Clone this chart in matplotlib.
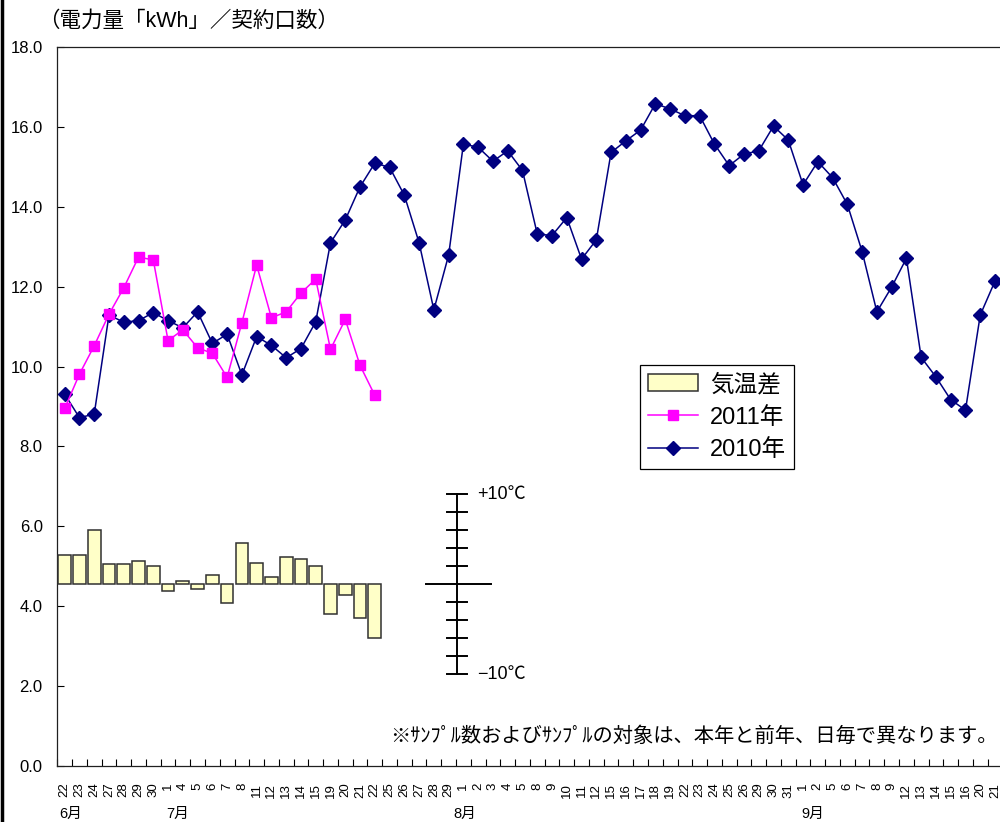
import matplotlib
matplotlib.use("Agg")
import matplotlib.pyplot as plt
import matplotlib.transforms as mtransforms
from matplotlib.lines import Line2D
from matplotlib.patches import Patch

plt.rcParams['font.family'] = ['Liberation Sans', 'Noto Sans CJK JP']

# 日付（平日のみ）
days_jun = [22, 23, 24, 27, 28, 29, 30]
days_jul = [1, 4, 5, 6, 7, 8, 11, 12, 13, 14, 15, 19, 20, 21, 22, 25, 26, 27, 28, 29]
days_aug = [1, 2, 3, 4, 5, 8, 9, 10, 11, 12, 15, 16, 17, 18, 19, 22, 23, 24, 25, 26,
            29, 30, 31]
days_sep = [1, 2, 5, 6, 7, 8, 9, 12, 13, 14, 15, 16, 20, 21]
months = ["6月", "7月", "8月", "9月"]

# 電力量[kWh]／契約口数
usage_2011 = [8.95, 9.81, 10.52, 11.31, 11.97, 12.74, 12.67, 10.65, 10.92, 10.47, 10.33,
              9.73, 11.10, 12.54, 11.22, 11.37, 11.84, 12.19, 10.43, 11.18, 10.03, 9.28]
usage_2010 = [9.31, 8.72, 8.81, 11.29, 11.11, 11.15, 11.35, 11.15, 10.97, 11.37, 10.58,
              10.81, 9.79, 10.75, 10.53, 10.22, 10.45, 11.12, 13.10, 13.67, 14.50, 15.09,
              14.99, 14.29, 13.10, 11.42, 12.79, 15.57, 15.49, 15.14, 15.40, 14.91, 13.32,
              13.28, 13.73, 12.69, 13.17, 15.36, 15.65, 15.92, 16.58, 16.45, 16.28, 16.28,
              15.57, 15.03, 15.32, 15.40, 16.02, 15.67, 14.55, 15.13, 14.73, 14.06, 12.88,
              11.37, 11.99, 12.71, 10.23, 9.74, 9.17, 8.91, 11.29, 12.14]

# 気温差[℃]（本年－前年）
temp_diff = [3.2, 3.2, 6.0, 2.2, 2.2, 2.6, 2.0, -0.7, 0.4, -0.5, 1.0, -2.1, 4.6, 2.4,
             0.8, 3.0, 2.8, 2.0, -3.3, -1.2, -3.7, -6.0]

day_labels = [str(d) for d in days_jun + days_jul + days_aug + days_sep]
n = len(day_labels)
x_all = list(range(n))
month_start = [0, len(days_jun), len(days_jun) + len(days_jul),
               len(days_jun) + len(days_jul) + len(days_aug)]
month_shift = [-0.35, -0.1, -0.7, -0.1]

fig = plt.figure(figsize=(10, 8.22), dpi=100)
ax = fig.add_axes([0.0573, 1 - 766 / 822, 0.9451, (766 - 47) / 822])

navy = '#000080'
magenta = '#FF00FF'

ax.plot(x_all, usage_2010, color=navy, lw=1.1, marker='D', ms=7,
        markeredgecolor=navy, zorder=3)
ax.plot(x_all[:len(usage_2011)], usage_2011, color=magenta, lw=1.1, marker='s', ms=6.5,
        markeredgecolor=magenta, zorder=4)

ax.set_xlim(-0.5, n - 0.5)
ax.set_ylim(0, 18)
ax.set_yticks(range(0, 19, 2))
ax.set_yticklabels([f"{v:.1f}" for v in range(0, 19, 2)], fontsize=12)
ax.tick_params(axis='y', direction='in', length=5, width=0.8, pad=10.5)

ax.set_xticks(x_all)
ax.set_xticklabels(day_labels, rotation=90, fontsize=9.5, va='top', ha='center')
ax.set_xticks([i - 0.5 for i in range(n + 1)], minor=True)
ax.tick_params(axis='x', which='major', length=0, pad=12)
ax.tick_params(axis='x', which='minor', direction='in', length=5, width=0.8)

for side in ['left', 'top', 'bottom']:
    ax.spines[side].set_linewidth(0.9)
    ax.spines[side].set_color('#202020')
ax.spines['right'].set_visible(False)

# 気温差は別スケール（1℃ = 9px 相当）を重ねて描く
temp_zero = 4.55
temp_per_deg = 0.2253
ax2 = ax.twinx()
ax2.set_ylim(-temp_zero / temp_per_deg, (18 - temp_zero) / temp_per_deg)
ax2.axis('off')
ax2.bar(x_all[:len(temp_diff)], temp_diff, width=0.86, color='#FFFFC8',
        edgecolor='#303030', linewidth=1.1)

# 気温差の目盛り
sx = 26.55
ax2.plot([sx, sx], [-10, 10], color='black', lw=1.4)
for t in [-10, -8, -6, -4, -2, 2, 4, 6, 8, 10]:
    ax2.plot([sx - 0.68, sx + 0.68], [t, t], color='black', lw=1.4)
ax2.plot([sx - 2.08, sx + 2.33], [0, 0], color='black', lw=1.4)
ax2.text(sx + 1.4, 10, "+10℃", fontsize=13, va='center', ha='left')
ax2.text(sx + 1.4, -10, "−10℃", fontsize=13, va='center', ha='left')

# 月ラベル
trans = mtransforms.blended_transform_factory(ax.transData, fig.transFigure)
for m, s, d in zip(months, month_start, month_shift):
    ax.text(s + d, 1 - 814 / 822, m, transform=trans, fontsize=10.5,
            ha='left', va='center')

fig.text(0.038, 1 - 21 / 822, "（電力量「kWh」／契約口数）", fontsize=15.5,
         ha='left', va='center')
fig.text(0.998, 1 - 736 / 822, "※ｻﾝﾌﾟﾙ数およびｻﾝﾌﾟﾙの対象は、本年と前年、日毎で異なります。",
         fontsize=14.6, ha='right', va='center')

handles = [
    Patch(facecolor='#FFFFC8', edgecolor='#303030', linewidth=1.1, label='気温差'),
    Line2D([], [], color=magenta, lw=1.1, marker='s', ms=7, label='2011年'),
    Line2D([], [], color=navy, lw=1.1, marker='D', ms=7, label='2010年'),
]
leg = fig.legend(handles=handles, loc='upper left', bbox_to_anchor=(0.640, 1 - 365 / 822),
                 fontsize=17, frameon=True, fancybox=False, framealpha=1,
                 edgecolor='black', borderpad=0.35, labelspacing=0.45,
                 handlelength=2.1, handletextpad=0.5, numpoints=1, borderaxespad=0)
leg.get_frame().set_linewidth(0.9)

fig.add_artist(Line2D([0.0015, 0.0015], [0, 1], color='black', lw=2.5,
                      transform=fig.transFigure))

fig.savefig("out.png", dpi=100)
